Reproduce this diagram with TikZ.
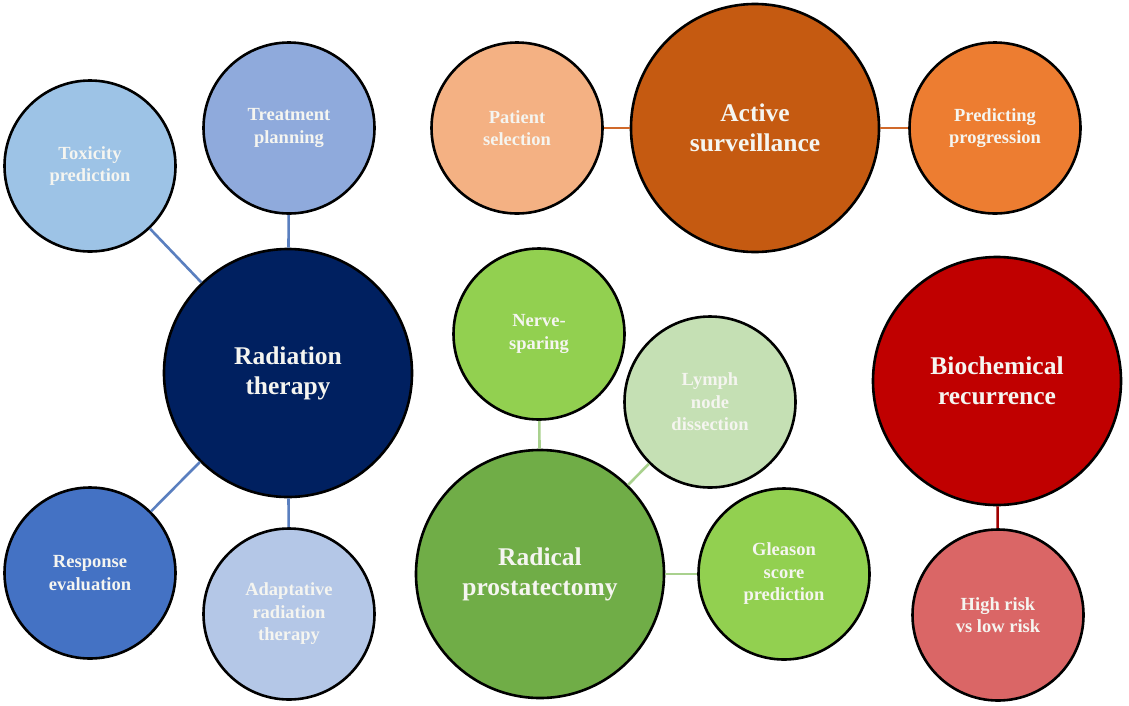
\documentclass[tikz,border=0pt]{standalone}
\usepackage{fontspec}
\setmainfont{Liberation Serif}
\definecolor{rtcol}{HTML}{002060}
\definecolor{toxcol}{HTML}{9DC3E6}
\definecolor{plancol}{HTML}{8FAADC}
\definecolor{respcol}{HTML}{4472C4}
\definecolor{adaptcol}{HTML}{B4C7E7}
\definecolor{bluelink}{HTML}{5A7FBF}
\definecolor{ascol}{HTML}{C55A11}
\definecolor{patcol}{HTML}{F4B183}
\definecolor{predcol}{HTML}{ED7D31}
\definecolor{orangelink}{HTML}{D0692A}
\definecolor{rpcol}{HTML}{70AD47}
\definecolor{lightgreen}{HTML}{92D050}
\definecolor{lymphcol}{HTML}{C5E0B4}
\definecolor{greenlink}{HTML}{A9D18E}
\definecolor{bcrcol}{HTML}{C00000}
\definecolor{riskcol}{HTML}{DA6666}
\definecolor{redlink}{HTML}{A00000}
\definecolor{txt}{HTML}{F5F5F0}
\begin{document}
\begin{tikzpicture}[x=1pt,y=-1pt,
  bubble/.style={circle,draw=black,line width=2.6pt,inner sep=0pt,text=txt,align=center},
  big/.style={bubble,minimum size=248pt,font=\bfseries\fontsize{25.5}{30}\selectfont},
  small/.style={bubble,minimum size=171pt,font=\bfseries\fontsize{18.5}{22.5}\selectfont},
  link/.style={line width=2.6pt}]
\useasboundingbox[fill=white] (0,0) rectangle (1129,705);
% Radiation therapy cluster
\node[big,fill=rtcol] (rt) at (288,373) {Radiation\\therapy};
\node[small,fill=toxcol] (tox) at (90,166) {Toxicity\\prediction};
\node[small,fill=plancol] (plan) at (289,128) {Treatment\\planning};
\node[small,fill=respcol] (resp) at (90,573) {Response\\evaluation};
\node[small,fill=adaptcol] (adapt) at (289,614) {Adaptative\\radiation\\therapy};
% Active surveillance cluster
\node[big,fill=ascol] (as) at (755,128) {Active\\surveillance};
\node[small,fill=patcol] (pat) at (517,128) {Patient\\selection};
\node[small,fill=predcol] (pred) at (995,128) {Predicting\\progression};
% Radical prostatectomy cluster
\node[big,fill=rpcol] (rp) at (540,574) {Radical\\prostatectomy};
\node[small,fill=lightgreen] (nerve) at (539,334) {Nerve-\\sparing};
\node[small,fill=lymphcol] (lymph) at (710,402) {Lymph\\node\\dissection};
\node[small,fill=lightgreen] (gleason) at (784,574) {Gleason\\score\\prediction};
% Biochemical recurrence cluster
\node[big,fill=bcrcol] (bcr) at (997,381) {Biochemical\\recurrence};
\node[small,fill=riskcol] (risk) at (998,615) {High risk\\vs low risk};
% connectors
\draw[link,bluelink] (tox) -- (rt);
\draw[link,bluelink] (plan) -- (rt);
\draw[link,bluelink] (resp) -- (rt);
\draw[link,bluelink] (adapt) -- (rt);
\draw[link,orangelink] (pat) -- (as);
\draw[link,orangelink] (pred) -- (as);
\draw[link,greenlink] (nerve) -- (rp);
\draw[link,greenlink] (lymph) -- (rp);
\draw[link,greenlink] (gleason) -- (rp);
\draw[link,redlink] (risk) -- (bcr);
\end{tikzpicture}
\end{document}
